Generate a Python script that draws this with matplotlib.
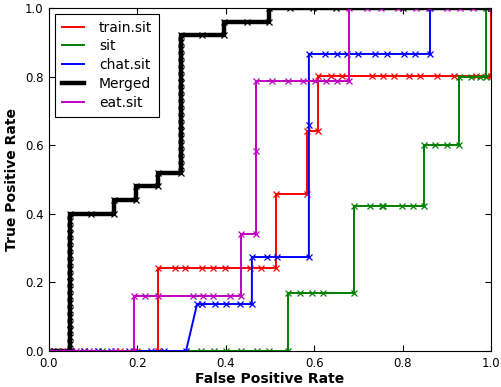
import matplotlib
matplotlib.use("Agg")
import matplotlib.pyplot as plt

# ---- data ----
train_fpr = [0.0, 0.02, 0.05, 0.08, 0.11, 0.16, 0.20, 0.247, 0.247, 0.285, 0.308, 0.346, 0.371,
             0.398, 0.455, 0.48, 0.514, 0.514, 0.584, 0.584, 0.609, 0.609, 0.638, 0.663, 0.731,
             0.756, 0.781, 0.814, 0.839, 0.878, 0.916, 0.966, 0.99, 1.0, 1.0]
train_tpr = [0.0, 0.0, 0.0, 0.0, 0.0, 0.0, 0.0, 0.0, 0.242, 0.242, 0.242, 0.242, 0.242,
             0.242, 0.242, 0.242, 0.242, 0.458, 0.458, 0.641, 0.641, 0.802, 0.802, 0.802, 0.802,
             0.802, 0.802, 0.802, 0.802, 0.802, 0.802, 0.802, 0.802, 0.802, 1.0]

sit_fpr = [0.0, 0.02, 0.12, 0.345, 0.373, 0.401, 0.435, 0.471, 0.498, 0.541, 0.541, 0.568, 0.595,
           0.62, 0.69, 0.69, 0.726, 0.753, 0.756, 0.799, 0.824, 0.848, 0.848, 0.873, 0.9, 0.928,
           0.928, 0.955, 0.975, 0.988, 0.988, 1.0]
sit_tpr = [0.0, 0.0, 0.0, 0.0, 0.0, 0.0, 0.0, 0.0, 0.0, 0.0, 0.169, 0.169, 0.169,
           0.169, 0.169, 0.423, 0.423, 0.423, 0.423, 0.423, 0.423, 0.423, 0.6, 0.6, 0.6, 0.6,
           0.8, 0.8, 0.8, 0.8, 1.0, 1.0]

chat_fpr = [0.0, 0.05, 0.08, 0.11, 0.14, 0.18, 0.23, 0.26, 0.31, 0.335, 0.346, 0.376, 0.400,
            0.432, 0.459, 0.459, 0.493, 0.516, 0.588, 0.588, 0.588, 0.624, 0.652, 0.674, 0.699,
            0.738, 0.765, 0.803, 0.828, 0.862, 0.862, 1.0]
chat_tpr = [0.0, 0.0, 0.0, 0.0, 0.0, 0.0, 0.0, 0.0, 0.0, 0.137, 0.137, 0.137, 0.137,
            0.137, 0.137, 0.274, 0.274, 0.274, 0.274, 0.659, 0.866, 0.866, 0.866, 0.866, 0.866,
            0.866, 0.866, 0.866, 0.866, 0.866, 1.0, 1.0]

merged_fpr = [0.0, 0.048, 0.048, 0.048, 0.048, 0.048, 0.048, 0.048, 0.048, 0.048, 0.048, 0.048,
              0.048, 0.048, 0.048, 0.048, 0.048, 0.048, 0.048, 0.048, 0.048, 0.048,
              0.095, 0.147, 0.147, 0.197, 0.197, 0.247, 0.247, 0.298,
              0.298, 0.298, 0.298, 0.298, 0.298, 0.298, 0.298, 0.298, 0.298, 0.298,
              0.298, 0.298, 0.298, 0.298, 0.298, 0.298, 0.298, 0.298, 0.298, 0.298,
              0.346, 0.396, 0.396, 0.448, 0.498, 0.498, 0.545, 0.597, 0.649, 0.80, 1.0]
merged_tpr = [0.0, 0.0, 0.02, 0.04, 0.06, 0.08, 0.10, 0.12, 0.14, 0.16, 0.18, 0.20,
              0.22, 0.24, 0.26, 0.28, 0.30, 0.32, 0.34, 0.36, 0.38, 0.40,
              0.40, 0.40, 0.44, 0.44, 0.48, 0.48, 0.52, 0.52,
              0.54, 0.56, 0.58, 0.60, 0.62, 0.64, 0.66, 0.68, 0.70, 0.72,
              0.74, 0.76, 0.78, 0.80, 0.82, 0.84, 0.86, 0.88, 0.90, 0.92,
              0.92, 0.92, 0.96, 0.96, 0.96, 1.0, 1.0, 1.0, 1.0, 1.0, 1.0]

eat_fpr = [0.0, 0.03, 0.06, 0.09, 0.15, 0.192, 0.192, 0.217, 0.246, 0.326, 0.348, 0.371, 0.409,
           0.434, 0.434, 0.468, 0.468, 0.468, 0.504, 0.541, 0.575, 0.602, 0.627, 0.652, 0.679,
           0.679, 0.72, 0.75, 0.79, 0.83, 0.86, 0.9, 0.93, 0.96, 1.0]
eat_tpr = [0.0, 0.0, 0.0, 0.0, 0.0, 0.0, 0.16, 0.16, 0.16, 0.16, 0.16, 0.16, 0.16,
           0.16, 0.341, 0.341, 0.583, 0.787, 0.787, 0.787, 0.787, 0.787, 0.787, 0.787, 0.787,
           1.0, 1.0, 1.0, 1.0, 1.0, 1.0, 1.0, 1.0, 1.0, 1.0]

x_ticks = [0.0, 0.2, 0.4, 0.6, 0.8, 1.0]
y_ticks = [0.0, 0.2, 0.4, 0.6, 0.8, 1.0]

# ---- figure ----
fig = plt.figure(figsize=(5.01, 3.87), dpi=100)
ax = fig.add_axes([49 / 501, 36 / 387, 442 / 501, 343 / 387])

mk = dict(marker='x', ms=4.5, mew=0.9)
ax.plot(train_fpr, train_tpr, color='#ff0000', lw=1.4, label='train.sit', **mk)
ax.plot(sit_fpr, sit_tpr, color='#008000', lw=1.4, label='sit', **mk)
ax.plot(chat_fpr, chat_tpr, color='#0000ff', lw=1.4, label='chat.sit', **mk)
ax.plot(merged_fpr, merged_tpr, color='black', lw=3.2, label='Merged', **mk)
ax.plot(eat_fpr, eat_tpr, color='#bf00bf', lw=1.4, label='eat.sit', **mk)

ax.set_xlim(0, 1)
ax.set_ylim(0, 1)
ax.set_xticks(x_ticks)
ax.set_yticks(y_ticks)
ax.set_xticklabels([f"{v:.1f}" for v in x_ticks])
ax.set_yticklabels([f"{v:.1f}" for v in y_ticks])
ax.tick_params(direction='in', top=True, right=True, labelsize=8.5, length=4, pad=4)
ax.set_xlabel('False Positive Rate', fontsize=10, fontweight='bold', labelpad=2)
ax.set_ylabel('True Positive Rate', fontsize=10, fontweight='bold', labelpad=4)

leg = ax.legend(loc='upper left', fontsize=10, fancybox=False, framealpha=1,
                handlelength=1.6, handletextpad=1.1, labelspacing=0.35,
                borderpad=0.5, borderaxespad=0.4)
leg.get_frame().set_edgecolor('black')
leg.get_frame().set_linewidth(0.8)
for h in leg.legend_handles:
    h.set_marker('None')

fig.savefig('out.png', dpi=100)
